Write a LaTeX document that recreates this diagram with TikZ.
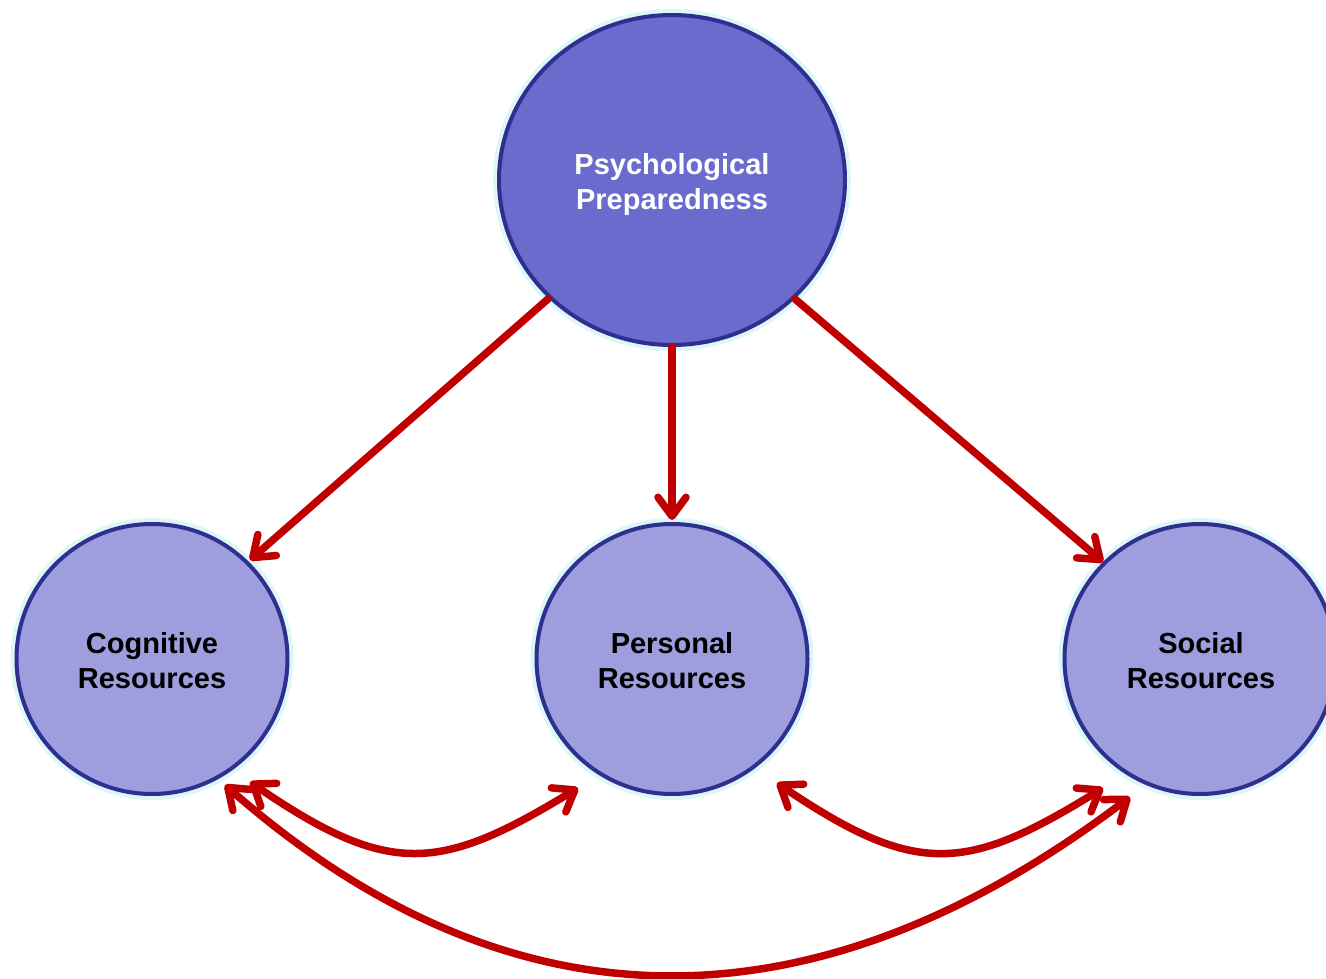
\documentclass[tikz,border=0pt]{standalone}
\usepackage{fontspec}
\setmainfont{Liberation Sans}
\usetikzlibrary{arrows.meta,shapes.geometric,calc}
\definecolor{topfill}{HTML}{6B6BCE}
\definecolor{botfill}{HTML}{9E9EDE}
\definecolor{rim}{HTML}{2E2F8E}
\definecolor{glow}{HTML}{DDF6F8}
\definecolor{arrowred}{HTML}{C00000}
\tikzset{
  bubble/.style={ellipse, draw=rim, line width=4pt, inner sep=0pt,
    preaction={draw=glow, line width=12pt}},
  topbubble/.style={bubble, fill=topfill, minimum width=346pt, minimum height=330pt},
  botbubble/.style={bubble, fill=botfill, minimum width=271pt, minimum height=270pt},
  caption/.style={align=center, inner sep=0pt, font=\fontsize{29}{35}\selectfont\bfseries},
  topcaption/.style={caption, text=white},
  botcaption/.style={caption, text=black},
  tip/.style={Straight Barb[length=19pt,width=28pt,round]},
  link/.style={draw=arrowred, line width=7.5pt, line cap=round, -{Straight Barb[length=19pt,width=28pt,round]}},
  duallink/.style={link, {Straight Barb[length=19pt,width=28pt,round]}-{Straight Barb[length=19pt,width=28pt,round]}}
}
\begin{document}
\begin{tikzpicture}[x=1pt,y=-1pt]
\useasboundingbox (0,0) rectangle (1326,979);
\begin{scope}
\clip (0,0) rectangle (1326,979);
\node[topbubble] (top) at (672,180) {};
\node[botbubble] (cog) at (152,659) {};
\node[botbubble] (pers) at (672,659) {};
\node[botbubble] (soc) at (1200,659) {};
\node[topcaption] (toptext) at ($(top)+(0,5)$) {Psychological\\Preparedness};
\node[botcaption] (cogtext) at ($(cog)+(0,2)$) {Cognitive\\Resources};
\node[botcaption] (perstext) at ($(pers)+(0,2)$) {Personal\\Resources};
\node[botcaption] (soctext) at ($(soc)+(1,2)$) {Social\\Resources};

\coordinate (t1) at ($(top)+(-124,119)$);
\coordinate (t3) at ($(top)+(123,119)$);
\coordinate (c1) at ($(cog)+(98,-99)$);
\coordinate (s1) at ($(soc)+(-97,-97)$);

\draw[link] (t1) -- (c1);
\draw[link] (top.south) -- ($(pers.north)+(0,-2)$);
\draw[link] (t3) -- (s1);

% curved bidirectional links
\coordinate (ca) at ($(cog)+(98,123)$);
\coordinate (pb) at ($(pers)+(-94,129)$);
\coordinate (pa) at ($(pers)+(105,124)$);
\coordinate (sb) at ($(soc)+(-97,129)$);
\coordinate (cc) at ($(cog)+(73,126)$);
\coordinate (sc) at ($(soc)+(-70,138)$);

\draw[duallink] (ca) .. controls (390,878) and (440,872) .. (pb);
\draw[duallink] (pa) .. controls (917,878) and (967,872) .. (sb);
\draw[duallink] (cc) .. controls (511,1036) and (814,1036) .. (sc);
\end{scope}
\end{tikzpicture}
\end{document}
